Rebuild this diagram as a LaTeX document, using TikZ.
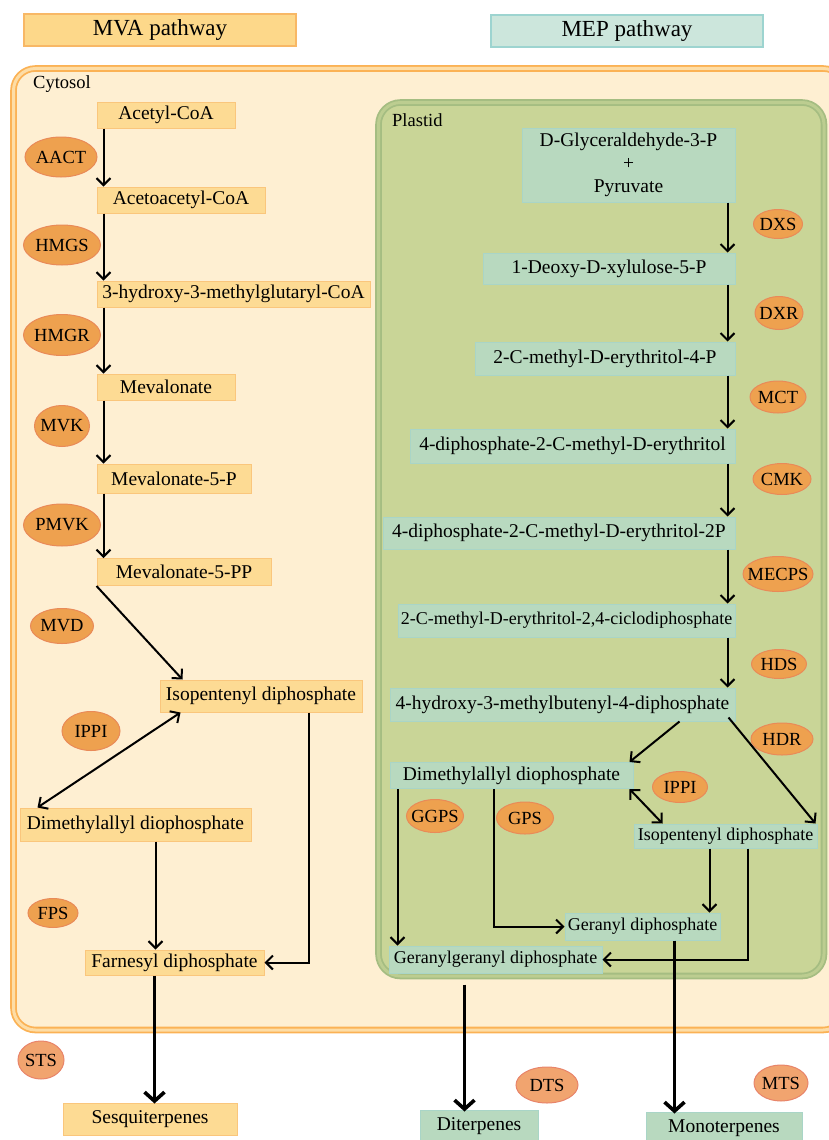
\documentclass[tikz,border=0pt]{standalone}
\usepackage{fontspec}
\setmainfont{Liberation Serif}
\usepackage{tikz}
\usetikzlibrary{arrows.meta,backgrounds,positioning,shapes.geometric}
\definecolor{CytoFill}{HTML}{FEEFD2}
\definecolor{CytoLine}{HTML}{FBB255}
\definecolor{CytoGap}{HTML}{FDDDA6}
\definecolor{PlastFill}{HTML}{C9D597}
\definecolor{PlastLine}{HTML}{A5BD82}
\definecolor{PlastGap}{HTML}{BCCD90}
\definecolor{MvaFill}{HTML}{FDDB94}
\definecolor{MvaLine}{HTML}{FAC67C}
\definecolor{MvaTitle}{HTML}{FDD88A}
\definecolor{MvaTitleLine}{HTML}{F8B866}
\definecolor{MepFill}{HTML}{B8D9BF}
\definecolor{MepLine}{HTML}{A9D5C7}
\definecolor{MepTitle}{HTML}{CCE6DC}
\definecolor{MepTitleLine}{HTML}{9DD4D0}
\definecolor{EnzFill}{HTML}{EEA14F}
\definecolor{EnzLine}{HTML}{E98A58}
\definecolor{TpsFill}{HTML}{F1A46F}
\definecolor{TpsLine}{HTML}{E8846A}
\tikzset{
  >={Straight Barb[length=7pt,width=14pt]},
  rxn/.style={->,line width=2pt},
  rxnboth/.style={<->,line width=2pt},
  flux/.style={-{Straight Barb[length=9pt,width=20pt]},line width=3.6pt},
  cytosol/.style={draw=CytoLine,double=CytoGap,line width=1.8pt,double distance=3pt,rounded corners=22pt,fill=CytoFill},
  plastid/.style={draw=PlastLine,double=PlastGap,line width=1.8pt,double distance=3pt,rounded corners=22pt,fill=PlastFill},
  mva/.style={draw=MvaLine,line width=1pt,fill=MvaFill,inner sep=0pt,align=center,font=\fontsize{19.5}{23}\selectfont},
  mep/.style={draw=MepLine,line width=1pt,fill=MepFill,inner sep=0pt,align=center,font=\fontsize{19.5}{23}\selectfont},
  heading/.style={line width=1.3pt,inner sep=0pt,minimum width=272pt,minimum height=32pt,font=\fontsize{23}{26}\selectfont},
  enzyme/.style={ellipse,draw=EnzLine,line width=1pt,fill=EnzFill,inner xsep=-7pt,inner ysep=0pt,font=\fontsize{18.5}{20}\selectfont},
  synthase/.style={enzyme,fill=TpsFill,draw=TpsLine},
  region/.style={anchor=west,inner sep=0pt,font=\fontsize{18.5}{20}\selectfont}
}

\begin{document}
\begin{tikzpicture}[x=1pt,y=-1pt]
  \useasboundingbox (0,0) rectangle (828,1140);

  % Pathway headings.
  \node[heading,fill=MvaTitle,draw=MvaTitleLine] (mvahead) at (160,30) {MVA pathway};
  \node[heading,fill=MepTitle,draw=MepTitleLine] (mephead) at (627,31) {MEP pathway};

  % Compartments.
  \draw[cytosol] (13.5,68.5) rectangle (845,1030);
  \draw[plastid] (378.5,102.5) rectangle (824,976);
  \node[region] (cytlabel) at (33,84) {Cytosol};
  \node[region] (plalabel) at (392,120) {Plastid};

  % MVA pathway (cytosol).
  \node[mva,minimum width=138pt,minimum height=26pt] (acoa) at (166,115) {Acetyl-CoA};
  \node[mva,minimum width=168pt,minimum height=26pt] (aacoa) at (181,200) {Acetoacetyl-CoA};
  \node[mva,minimum width=273pt,minimum height=26pt] (hmgcoa) at (233.5,294) {3-hydroxy-3-methylglutaryl-CoA};
  \node[mva,minimum width=138pt,minimum height=26pt] (mva) at (166,387) {Mevalonate};
  \node[mva,minimum width=154pt,minimum height=29pt] (mvap) at (174,478.5) {Mevalonate-5-P};
  \node[mva,minimum width=174pt,minimum height=27pt] (mvapp) at (184,572) {Mevalonate-5-PP};
  \node[mva,minimum width=202pt,minimum height=32pt] (ippc) at (261,696) {Isopentenyl diphosphate};
  \node[mva,minimum width=231pt,minimum height=33pt] (dmappc) at (135.5,824.5) {Dimethylallyl diophosphate};
  \node[mva,minimum width=179pt,minimum height=25pt] (fpp) at (174.5,962.5) {Farnesyl diphosphate};
  \node[mva,minimum width=174pt,minimum height=32pt] (sesq) at (150,1119) {Sesquiterpenes};

  \node[enzyme,minimum width=72pt,minimum height=40pt] (aact) at (61,157) {AACT};
  \node[enzyme,minimum width=77pt,minimum height=40pt] (hmgs) at (62,245) {HMGS};
  \node[enzyme,minimum width=77pt,minimum height=41pt] (hmgr) at (62,335) {HMGR};
  \node[enzyme,minimum width=55pt,minimum height=41pt] (mvk) at (62,426) {MVK};
  \node[enzyme,minimum width=77pt,minimum height=42pt] (pmvk) at (62,525) {PMVK};
  \node[enzyme,minimum width=63pt,minimum height=35pt] (mvd) at (62,626) {MVD};
  \node[enzyme,minimum width=58pt,minimum height=39pt] (ippic) at (91,731) {IPPI};
  \node[enzyme,minimum width=50pt,minimum height=29pt] (fps) at (53,913) {FPS};

  \draw[rxn] ([xshift=7pt]acoa.south west) -- ([xshift=7pt]aacoa.north west);
  \draw[rxn] ([xshift=7pt]aacoa.south west) -- ([xshift=7pt]hmgcoa.north west);
  \draw[rxn] ([xshift=7pt]hmgcoa.south west) -- ([xshift=7pt]mva.north west);
  \draw[rxn] ([xshift=7pt]mva.south west) -- ([xshift=7pt]mvap.north west);
  \draw[rxn] ([xshift=7pt]mvap.south west) -- ([xshift=7pt]mvapp.north west);
  \draw[rxn] (mvapp.south west) -- ([xshift=23pt]ippc.north west);
  \draw[rxnboth] ([xshift=21pt]ippc.south west) -- ([xshift=18pt]dmappc.north west);
  \draw[rxn] ([xshift=48pt]ippc.south) |- (fpp.east);
  \draw[rxn] ([xshift=20pt]dmappc.south) -- ([xshift=20pt]dmappc.south |- fpp.north);
  \draw[flux] ([xshift=-20pt]fpp.south) -- ([xshift=-20pt,yshift=-1pt]fpp.south |- sesq.north);

  % MEP pathway (plastid).
  \node[mep,minimum width=213pt,minimum height=74pt] (gap) at (628.5,165)
    {D-Glyceraldehyde-3-P\\+\\Pyruvate};
  \node[mep,minimum width=252pt,minimum height=31pt] (dxp) at (609,268.5) {1-Deoxy-D-xylulose-5-P};
  \node[mep,minimum width=260pt,minimum height=33pt] (memp) at (605,358.5) {2-C-methyl-D-erythritol-4-P};
  \node[mep,minimum width=325pt,minimum height=34pt] (cdpme) at (572.5,446) {4-diphosphate-2-C-methyl-D-erythritol};
  \node[mep,minimum width=352pt,minimum height=32pt] (cdpmep) at (559,533) {4-diphosphate-2-C-methyl-D-erythritol-2P};
  \node[mep,minimum width=337pt,minimum height=33pt,font=\fontsize{18}{21}\selectfont] (mecpp) at (566.5,620.5)
    {2-C-methyl-D-erythritol-2,4-ciclodiphosphate};
  \node[mep,minimum width=345pt,minimum height=33pt] (hmbpp) at (562.5,704.5) {4-hydroxy-3-methylbutenyl-4-diphosphate};
  \node[mep,minimum width=243pt,minimum height=26pt] (dmapp) at (511.5,775.5) {Dimethylallyl diophosphate};
  \node[mep,minimum width=183pt,minimum height=24pt,font=\fontsize{18}{21}\selectfont] (ipp) at (725.5,836) {Isopentenyl diphosphate};
  \node[mep,minimum width=155pt,minimum height=27pt,font=\fontsize{18}{21}\selectfont] (gpp) at (642.5,926.5) {Geranyl diphosphate};
  \node[mep,minimum width=213pt,minimum height=27pt,font=\fontsize{18}{21}\selectfont] (ggpp) at (495.5,959.5) {Geranylgeranyl diphosphate};
  \node[mep,minimum width=118pt,minimum height=32pt] (dit) at (479,1126) {Diterpenes};
  \node[mep,minimum width=156pt,minimum height=32pt] (mono) at (724,1128) {Monoterpenes};

  \node[enzyme,minimum width=49pt,minimum height=29pt] (dxs) at (778,224) {DXS};
  \node[enzyme,minimum width=48pt,minimum height=33pt] (dxr) at (779,313) {DXR};
  \node[enzyme,minimum width=56pt,minimum height=32pt] (mct) at (778,397) {MCT};
  \node[enzyme,minimum width=58pt,minimum height=31pt] (cmk) at (782,479) {CMK};
  \node[enzyme,minimum width=70pt,minimum height=35pt] (mecps) at (778,574) {MECPS};
  \node[enzyme,minimum width=55pt,minimum height=29pt] (hds) at (779,664) {HDS};
  \node[enzyme,minimum width=62pt,minimum height=32pt] (hdr) at (782,739) {HDR};
  \node[enzyme,minimum width=55pt,minimum height=31pt] (ippip) at (680,787) {IPPI};
  \node[enzyme,minimum width=57pt,minimum height=33pt] (ggps) at (435,816) {GGPS};
  \node[enzyme,minimum width=57pt,minimum height=32pt] (gps) at (525,818) {GPS};

  \draw[rxn] ([xshift=-8pt]gap.south east) -- ([xshift=-8pt]dxp.north east);
  \draw[rxn] ([xshift=-8pt]dxp.south east) -- ([xshift=-8pt]memp.north east);
  \draw[rxn] ([xshift=-8pt]memp.south east) -- ([xshift=-8pt]cdpme.north east);
  \draw[rxn] ([xshift=-8pt]cdpme.south east) -- ([xshift=-8pt]cdpmep.north east);
  \draw[rxn] ([xshift=-8pt]cdpmep.south east) -- ([xshift=-8pt]mecpp.north east);
  \draw[rxn] ([xshift=-8pt]mecpp.south east) -- ([xshift=-8pt]hmbpp.north east);
  \draw[rxn] ([xshift=117pt]hmbpp.south) -- ([xshift=-4pt]dmapp.north east);
  \draw[rxn] ([xshift=-7pt,yshift=4pt]hmbpp.south east) -- ([xshift=-2pt]ipp.north east);
  \draw[rxnboth] ([xshift=-4pt]dmapp.south east) -- ([xshift=29pt]ipp.north west);
  \draw[rxn] ([xshift=8pt]dmapp.south west) -- ([xshift=8pt]dmapp.south west |- ggpp.north);
  \draw[rxn] ([xshift=104pt]dmapp.south west) |- (gpp.west);
  \draw[rxn] ([xshift=-16pt]ipp.south) -- ([xshift=-16pt]ipp.south |- gpp.north);
  \draw[rxn] ([xshift=22pt]ipp.south) |- (ggpp.east);

  % Terpene synthases.
  \node[synthase,minimum width=46pt,minimum height=38pt] (sts) at (41,1060) {STS};
  \node[synthase,minimum width=62pt,minimum height=36pt] (dts) at (547,1085) {DTS};
  \node[synthase,minimum width=54pt,minimum height=36pt] (mts) at (781,1083) {MTS};

  \draw[flux,shorten <=11pt] ([xshift=-31pt]ggpp.south) -- ([xshift=-31pt,yshift=-2pt]ggpp.south |- dit.north);
  \draw[flux] ([xshift=32pt]gpp.south) -- ([xshift=32pt,yshift=-2pt]gpp.south |- mono.north);
\end{tikzpicture}
\end{document}
